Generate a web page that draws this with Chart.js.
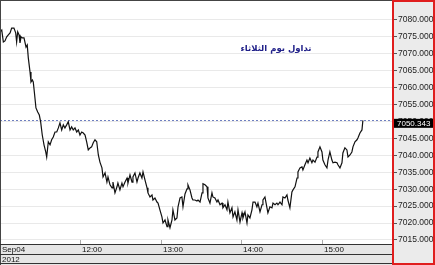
<!DOCTYPE html>
<html><head><meta charset="utf-8">
<script src="https://cdn.jsdelivr.net/npm/chart.js@4/dist/chart.umd.min.js"></script>
<style>html,body{margin:0;padding:0;background:#fff}canvas{display:block}</style>
</head><body>
<canvas id="c" width="435" height="265"></canvas>
<script>
// ---- data ----
const titleText = 'تداول يوم الثلاثاء';
const yearLabel = '2012';
const startHour = 11;               // minutes below are counted from 11:00
const tickMinutes = [0, 60, 120, 180, 240];
const tickLabels = ['Sep04', '12:00', '13:00', '14:00', '15:00'];
const yTickValues = [7015, 7020, 7025, 7030, 7035, 7040, 7045, 7050, 7055, 7060, 7065, 7070, 7075, 7080];
const yMin = 7013.8;
const yMax = 7085.9;
const xMax = 292.2;

const minutes = [
  0.0,1.3,2.5,3.7,5.0,6.2,7.5,8.7,10.4,11.7,
  12.4,13.2,14.2,14.9,15.7,16.6,17.9,19.4,20.3,21.1,
  22.4,23.1,24.1,24.8,25.6,26.8,28.1,29.3,30.3,31.5,
  32.8,34.1,34.8,36.0,37.3,38.5,39.7,41.0,42.3,43.5,
  44.7,46.0,47.2,48.4,49.7,50.9,52.2,53.4,54.6,55.9,
  57.2,58.4,59.6,60.9,62.1,63.4,64.6,65.8,67.1,68.3,
  69.5,70.8,72.1,73.3,74.5,76.0,76.8,78.3,79.7,80.5,
  82.0,83.5,84.2,85.7,87.2,87.9,89.4,90.9,91.7,93.2,
  94.7,95.4,96.9,98.4,99.1,100.6,102.1,102.9,104.3,105.8,
  106.6,108.1,109.6,110.3,111.8,113.3,114.0,115.5,117.0,117.8,
  119.2,120.7,121.5,123.0,124.5,125.2,126.7,128.2,128.9,130.4,
  131.9,132.7,134.2,135.6,136.4,137.9,139.4,140.1,141.6,143.1,
  143.8,145.3,146.8,147.6,149.1,150.6,151.3,152.8,154.3,155.0,
  156.5,158.0,158.7,160.2,161.7,162.5,164.0,165.5,166.2,167.7,
  169.2,169.9,171.4,172.9,173.7,175.1,176.6,177.4,178.9,180.4,
  181.1,182.6,184.1,184.8,186.3,187.8,188.6,190.1,191.5,192.3,
  193.8,195.3,196.0,197.5,199.0,199.7,201.2,202.7,203.5,205.0,
  206.4,207.2,208.7,210.2,210.9,212.4,213.9,214.6,216.1,217.6,
  218.4,219.9,221.4,222.1,223.6,225.1,225.8,227.3,228.8,229.6,
  231.0,232.5,233.3,234.8,236.3,237.0,238.5,240.0,240.7,242.2,
  243.7,244.5,245.9,247.4,248.2,249.7,251.2,251.9,253.4,254.9,
  255.6,257.1,258.6,259.4,260.9,262.3,263.1,264.6,266.1,266.8,
  268.3,269.8,270.5
];
const values = [
  7076.5,7077.0,7073.5,7073.8,7075.0,7075.6,7076.2,7077.6,7077.6,7076.2,
  7073.5,7076.5,7075.6,7073.2,7075.0,7074.7,7074.7,7072.0,7072.6,7068.8,
  7064.6,7061.7,7062.3,7061.7,7058.7,7054.0,7052.8,7051.9,7049.9,7046.0,
  7043.1,7041.0,7039.5,7044.0,7043.1,7044.6,7045.4,7046.9,7046.9,7048.1,
  7049.6,7047.5,7049.0,7048.1,7049.0,7049.9,7047.5,7048.4,7047.5,7048.1,
  7046.9,7047.5,7046.0,7046.9,7046.6,7046.0,7044.0,7041.6,7042.2,7042.5,
  7043.7,7044.6,7044.0,7040.1,7038.0,7036.3,7033.6,7034.8,7032.1,7033.6,
  7031.3,7030.4,7032.1,7028.9,7030.7,7031.8,7029.8,7031.8,7030.7,7032.1,
  7033.3,7031.8,7034.2,7032.1,7033.6,7034.8,7032.1,7033.3,7034.8,7033.3,
  7035.1,7032.7,7030.4,7028.9,7027.7,7028.3,7026.8,7027.4,7026.2,7025.9,
  7023.9,7021.8,7020.0,7020.9,7018.9,7020.9,7018.6,7020.9,7023.9,7020.9,
  7021.5,7024.8,7027.4,7027.7,7024.8,7028.6,7030.1,7031.3,7029.8,7027.4,
  7026.8,7026.8,7026.5,7026.8,7026.2,7028.9,7031.6,7031.3,7030.7,7027.4,
  7025.9,7028.9,7027.7,7027.4,7026.2,7026.8,7025.4,7025.9,7024.5,7025.4,
  7023.9,7026.2,7023.0,7024.5,7021.8,7023.3,7020.9,7023.9,7020.3,7023.0,
  7021.5,7023.3,7020.0,7022.4,7021.5,7023.9,7026.2,7026.2,7024.8,7025.9,
  7023.3,7025.4,7026.8,7027.7,7024.5,7023.0,7024.8,7024.5,7025.9,7025.4,
  7025.9,7025.4,7026.2,7025.4,7027.7,7027.4,7028.3,7026.8,7024.5,7029.2,
  7029.8,7030.7,7033.3,7035.1,7036.3,7036.6,7035.7,7037.2,7038.6,7037.8,
  7039.2,7037.8,7038.6,7038.0,7039.5,7041.0,7042.5,7041.0,7038.6,7037.2,
  7036.3,7038.6,7041.0,7038.6,7037.8,7038.0,7037.8,7037.2,7036.3,7037.8,
  7040.7,7042.2,7041.6,7039.5,7040.1,7041.0,7042.5,7044.0,7044.6,7045.1,
  7046.6,7047.5,7050.343
];
const lastValue = values[values.length - 1];

// ---- chart ----
const FONT = 'Liberation Sans, Arial, sans-serif';
const points = minutes.map((m, i) => ({ x: m, y: values[i] }));

const decor = {
  id: 'decor',
  beforeDraw(chart) {
    const { ctx, chartArea: a, width, height } = chart;
    ctx.save();
    ctx.fillStyle = '#ffffff';
    ctx.fillRect(0, 0, width, height);
    ctx.fillStyle = '#ebebeb';
    ctx.fillRect(a.right, 0, width - a.right, height);
    ctx.fillStyle = '#e6e6e6';
    ctx.fillRect(0, a.bottom, a.right, height - a.bottom);
    ctx.restore();
  },
  beforeDatasetsDraw(chart) {
    const { ctx, chartArea: a, scales } = chart;
    ctx.save();
    const py = Math.round(scales.y.getPixelForValue(lastValue)) + 0.5;
    ctx.strokeStyle = '#6f7fc0';
    ctx.lineWidth = 1;
    ctx.setLineDash([2, 2]);
    ctx.beginPath();
    ctx.moveTo(a.left, py);
    ctx.lineTo(a.right, py);
    ctx.stroke();
    ctx.setLineDash([]);
    ctx.fillStyle = '#22228a';
    ctx.font = 'bold 8.5px "DejaVu Sans", sans-serif';
    ctx.textAlign = 'center';
    ctx.textBaseline = 'middle';
    ctx.direction = 'rtl';
    ctx.fillText(titleText, 276, 49);
    ctx.restore();
  },
  afterDraw(chart) {
    const { ctx, chartArea: a, scales, width, height } = chart;
    const xs = scales.x;
    ctx.save();
    ctx.strokeStyle = '#444';
    ctx.lineWidth = 1;
    ctx.beginPath();
    ctx.moveTo(0.5, 0); ctx.lineTo(0.5, height);
    ctx.moveTo(0, 0.5); ctx.lineTo(a.right, 0.5);
    ctx.stroke();
    const b1 = Math.round(a.bottom) + 0.5;
    const b2 = b1 + 10;
    const b3 = height - 1.5;
    ctx.strokeStyle = '#333';
    ctx.beginPath();
    ctx.moveTo(0, b1); ctx.lineTo(a.right, b1);
    ctx.moveTo(0, b2); ctx.lineTo(a.right, b2);
    ctx.moveTo(0, b3); ctx.lineTo(a.right, b3);
    ctx.stroke();
    ctx.strokeStyle = '#aaa';
    ctx.fillStyle = '#111';
    ctx.font = '8px ' + FONT;
    ctx.textAlign = 'left';
    ctx.textBaseline = 'middle';
    tickMinutes.forEach((m, i) => {
      const px = Math.round(xs.getPixelForValue(m)) + 0.5;
      if (i > 0) {
        ctx.beginPath();
        ctx.moveTo(px, a.bottom - 4); ctx.lineTo(px, a.bottom);
        ctx.stroke();
      }
      ctx.fillText(tickLabels[i], i === 0 ? 2 : px + 1.5, b1 + 5);
    });
    ctx.fillText(yearLabel, 2, b2 + 5);
    const py = scales.y.getPixelForValue(lastValue);
    ctx.fillStyle = '#000';
    ctx.fillRect(a.right + 1, py - 1.5, 41, 9);
    ctx.fillStyle = '#fff';
    ctx.fillText(lastValue.toFixed(3), a.right + 5, py + 3);
    ctx.strokeStyle = '#e01e1e';
    ctx.lineWidth = 2;
    ctx.strokeRect(a.right + 1, 1, width - a.right - 2, height - 2);
    ctx.restore();
  }
};

new Chart(document.getElementById('c'), {
  type: 'line',
  data: {
    datasets: [{
      data: points,
      borderColor: '#111',
      borderWidth: 1.2,
      pointRadius: 0,
      tension: 0,
      fill: false
    }]
  },
  options: {
    responsive: false,
    animation: false,
    devicePixelRatio: 1,
    layout: { padding: { left: 0, top: 0, right: 0, bottom: 21 } },
    plugins: { legend: { display: false }, tooltip: { enabled: false }, title: { display: false } },
    scales: {
      x: { type: 'linear', min: 0, max: xMax, display: false },
      y: {
        position: 'right', min: yMin, max: yMax,
        afterFit(s) { s.width = 43; s.paddingTop = 0; s.paddingBottom = 0; },
        afterBuildTicks(s) { s.ticks = yTickValues.map(v => ({ value: v })); },
        border: { display: false },
        grid: { color: '#e9e9e9', lineWidth: 1, drawTicks: true, tickLength: 5, tickColor: '#555' },
        ticks: {
          padding: 1, color: '#222', autoSkip: false,
          font: { family: FONT, size: 8.5 },
          callback: v => Number(v).toFixed(3)
        }
      }
    }
  },
  plugins: [decor]
});
</script>
</body></html>
